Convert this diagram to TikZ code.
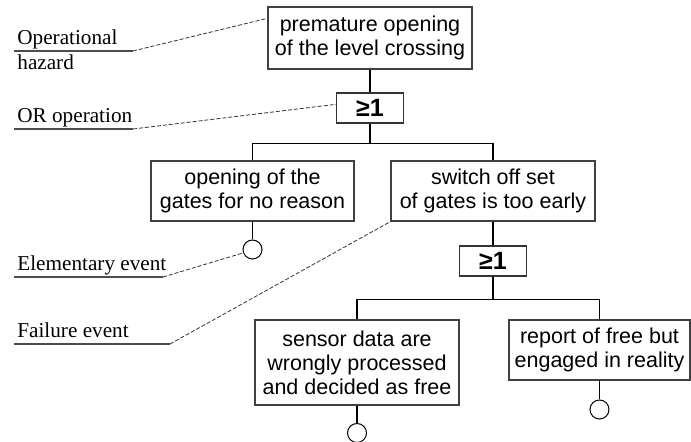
\documentclass[tikz,border=0pt]{standalone}
\usepackage{fontspec}
\setmainfont{Liberation Serif}
\setsansfont{Liberation Sans}
\usepackage{amsmath, amssymb}

\begin{document}
\begin{tikzpicture}[x=0.5pt, y=-0.5pt]
        % ================= 样式定义 =================
        \tikzset{
            % 事件方框:白底灰边矩形
            evbox/.style={rectangle, draw=black!75, line width=0.65pt, fill=white, inner sep=0pt, align=center, font=\sffamily\fontsize{10.75}{12}\selectfont},
            % 或门方框
            gbox/.style={rectangle, draw=black!80, line width=0.65pt, fill=white, minimum width=33.5pt, minimum height=15pt, inner sep=0pt, font=\sffamily\bfseries\fontsize{12.5}{14}\selectfont},
            % 基本事件圆圈
            bnode/.style={circle, draw=black, line width=0.5pt, fill=white, minimum size=9.5pt, inner sep=0pt},
            % 左侧说明文字
            lbl/.style={anchor=base west, inner sep=0pt, font=\fontsize{10.6}{12}\selectfont},
            % 连边样式
            link/.style={line width=0.6pt, black},
            leader/.style={line width=0.4pt, black!80, dash pattern=on 2pt off 1pt},
            uline/.style={line width=0.75pt, black!70}
        }
        \useasboundingbox (0,0) rectangle (691,442);

        % ================= 事件与门 (树形布局) =================
        \node[evbox, minimum width=102pt, minimum height=31pt] (haz) at (370,38) {premature opening\\of the level crossing};
        \node[gbox] (g1) at (370,108) {≥1};
        \node[evbox, minimum width=101.5pt, minimum height=30pt] (ev1) at (252.5,191) {opening of the\\gates for no reason};
        \node[evbox, minimum width=102pt, minimum height=30pt] (ev2) at (493,191) {switch off set\\of gates is too early};
        \node[gbox] (g2) at (493,261) {≥1};
        \node[evbox, minimum width=102pt, minimum height=42.5pt] (ev3) at (357,362.5) {sensor data are\\wrongly processed\\and decided as free};
        \node[evbox, minimum width=90.5pt, minimum height=30pt] (ev4) at (599.5,350) {report of free but\\engaged in reality};

        \node[bnode] (c1) at (252.5,249.5) {};
        \node[bnode] (c2) at (357,433) {};
        \node[bnode] (c3) at (599.5,409.5) {};

        % ================= 连边 =================
        \draw[link] (haz) -- (g1);
        \draw[link] (g1.south) -- ++(0,20) -| (ev1.north);
        \draw[link] (g1.south) -- ++(0,20) -| (ev2.north);
        \draw[link] (ev2) -- (g2);
        \draw[link] (g2.south) -- ++(0,23) -| (ev3.north);
        \draw[link] (g2.south) -- ++(0,23) -| (ev4.north);
        \draw[link] (ev1) -- (c1);
        \draw[link] (ev3) -- (c2);
        \draw[link] (ev4) -- (c3);

        % ================= 左侧说明 =================
        \node[lbl] (lOp) at (17,45) {Operational};
        \node[lbl] (lHz) at (17,70) {hazard};
        \node[lbl] (lOr) at (17,123) {OR operation};
        \node[lbl] (lEl) at (17,271) {Elementary event};
        \node[lbl] (lFa) at (17,338) {Failure event};

        % 下划线,右端作为引线起点
        \foreach \y/\x/\n in {51/133/uOp, 129/133/uOr, 277/163/uEl, 344/170/uFa}
            \draw[uline] (14,\y) -- (\x,\y) coordinate (\n);

        % 虚线引线
        \draw[leader] (uOp) -- ([yshift=-6pt]haz.north west);
        \draw[leader] (uOr) -- ([yshift=-6pt]g1.north west);
        \draw[leader] (uEl) -- (c1.200);
        \draw[leader] (uFa) -- (ev2.south west);

    \end{tikzpicture}
\end{document}
